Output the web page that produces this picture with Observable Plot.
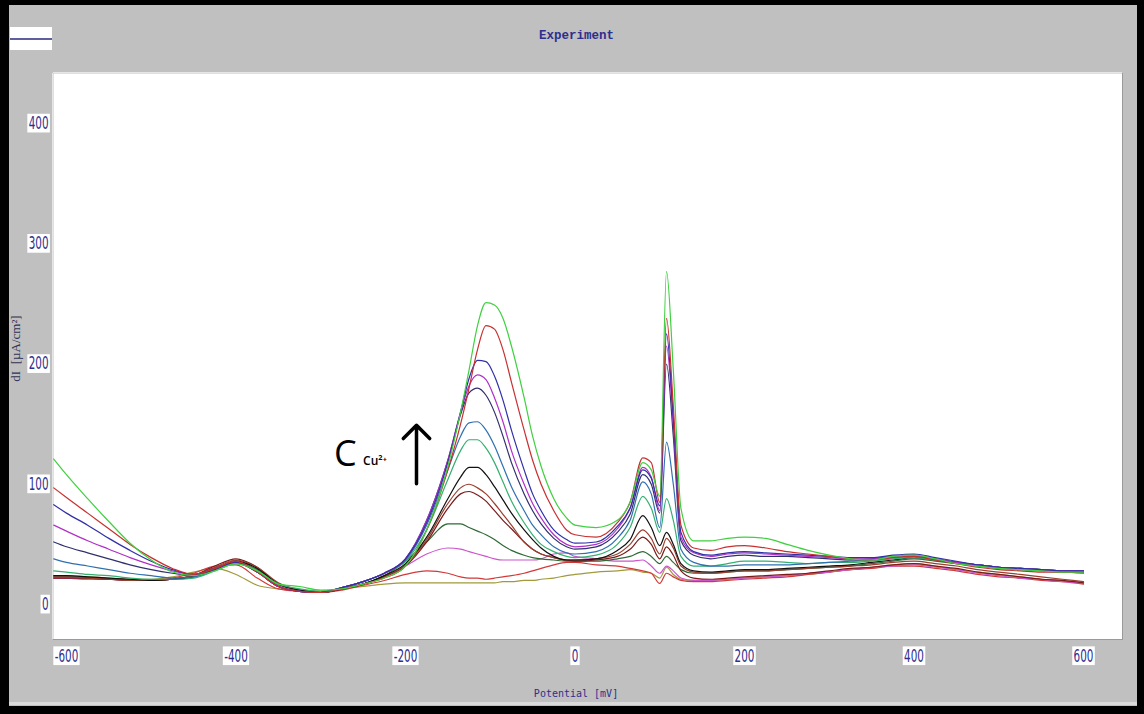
<!DOCTYPE html>
<html><head><meta charset="utf-8">
<script src="https://cdn.jsdelivr.net/npm/d3@7"></script>
<script src="https://cdn.jsdelivr.net/npm/@observablehq/plot@0.6"></script>
<style>
html,body{margin:0;padding:0;background:#fff;}
#wrap{position:relative;width:1144px;height:714px;overflow:hidden;}
</style></head><body><div id="wrap"></div>
<script>
// Potential axis sample points (mV)
const potential = [-615,-600,-575,-550,-525,-500,-475,-450,-425,-400,
 -375,-350,-325,-300,-275,-250,-225,-200,-175,-150,
 -135,-125,-115,-105,-95,-85,-75,-60,-50,-40,
 -25,-10,0,25,50,65,80,90,100,108,
 116,125,140,160,180,200,225,250,275,300,
 325,350,375,400,425,450,475,500,525,550,
 575,600];

// dI values (µA/cm²), one array per curve
const green = [121,108,88,69,51,37,27,24,28,34,
 28,17,15,12,13,17,22,32,62,115,
 160,195,232,251,249,238,215,172,140,115,
 88,72,66,64,70,85,118,112,90,277,
 195,80,53,53,55,56,55,50,45,41,
 38,37,40,41,38,34,32,30,29,28,
 27,27];
const red = [97,89,76,63,50,39,30,25,30,36,
 27,15,11,10,13,17,22,32,62,112,
 150,180,212,232,229,212,185,145,120,100,
 78,62,58,56,68,85,122,118,85,238,
 165,66,47,45,48,49,47,44,42,40,
 38,37,39,40,37,34,31,29,28,27,
 27,26];
const darkBlue = [83,76,66,55,45,36,29,25,30,35,
 27,15,11,10,14,19,26,38,68,118,
 160,188,203,202,190,170,145,112,92,78,
 62,54,51,52,65,80,112,105,82,225,
 155,60,44,41,43,44,43,42,41,40,
 39,39,41,42,39,36,33,31,30,29,
 28,28];
const violet = [66,61,53,46,39,33,28,25,30,35,
 27,15,11,10,14,19,26,38,70,120,
 160,182,191,187,172,152,128,100,84,72,
 58,50,48,50,63,80,114,106,78,215,
 150,56,43,40,42,43,42,41,40,39,
 38,38,40,41,38,35,33,31,30,29,
 28,28];
const navy = [52,48,43,38,33,29,26,24,29,35,
 27,15,11,10,14,19,26,38,70,120,
 158,176,180,174,160,140,118,92,78,67,
 55,48,46,48,60,75,108,100,76,200,
 140,53,41,38,40,41,40,40,39,38,
 37,38,40,41,38,35,33,31,30,29,
 28,27];
const steel = [38,35,32,29,26,24,22,23,29,35,
 27,15,11,10,14,19,26,37,66,112,
 140,151,152,145,132,115,98,78,66,58,
 48,43,42,44,55,70,102,92,64,135,
 100,46,35,32,32,33,33,33,34,35,
 36,37,39,40,38,35,33,31,30,29,
 28,28];
const green2 = [28,27,25,24,22,21,21,22,28,34,
 28,17,13,11,14,19,26,36,62,104,
 128,137,137,130,118,102,86,68,58,50,
 44,40,39,41,50,64,90,80,60,88,
 70,40,32,32,34,36,36,35,34,35,
 35,36,38,39,37,35,33,31,30,29,
 28,28];
const black = [24,24,23,22,21,20,21,23,29,36,
 30,17,12,10,13,17,24,34,56,88,
 106,114,114,108,98,87,76,62,54,47,
 40,37,37,38,45,54,74,64,49,60,
 50,34,28,27,28,29,29,30,31,32,
 33,35,37,39,37,35,33,31,30,29,
 28,28];
const brown = [23,23,22,21,20,20,21,24,31,37,
 31,18,12,10,13,17,23,33,54,84,
 97,100,97,92,84,75,66,52,46,42,
 39,37,37,38,42,50,62,55,42,55,
 47,32,27,26,27,28,28,29,30,31,
 32,33,35,36,34,32,29,27,25,23,
 21,19];
const maroon = [22,22,22,21,20,20,21,24,32,38,
 31,17,12,10,13,17,23,32,52,80,
 92,94,91,86,78,70,63,52,46,42,
 39,37,36,37,40,46,56,50,38,48,
 41,28,22,21,22,23,24,25,26,28,
 30,31,33,34,32,30,27,25,23,21,
 20,18];
const darkGreen = [23,23,22,21,21,20,21,24,30,36,
 29,17,12,10,13,17,24,36,52,67,
 67,64,61,58,54,49,45,41,39,38,
 37,36,36,36,38,40,44,40,34,40,
 35,29,26,26,27,28,28,29,30,31,
 32,34,36,38,36,34,32,30,29,28,
 27,27];
const magenta = [22,22,21,21,20,20,21,24,30,35,
 27,16,11,10,13,17,23,32,42,47,
 46,44,42,40,38,37,37,37,37,38,
 42,43,40,38,36,36,37,32,26,32,
 28,22,20,20,21,22,23,24,26,27,
 29,31,32,33,31,29,26,24,22,21,
 19,18];
const red2 = [22,22,21,21,20,20,22,26,32,33,
 22,13,11,10,12,16,20,25,28,26,
 23,22,22,21,22,23,24,26,28,30,
 33,35,35,33,32,30,28,26,17.5,26,
 23,20,19,19,20,21,22,23,25,27,
 29,30,32,32,30,28,25,23,22,20,
 19,17];
const olive = [24,24,23,22,21,21,23,27,30,25,
 16,13,12,11,13,15,17,18,18,18,
 18,18,18,18,18,19,19,20,20,21,
 22,24,25,27,28,29,27,26,22,31,
 25,21,20,20,21,22,23,24,25,27,
 29,31,33,34,32,29,27,25,23,21,
 20,18];

const seriesNames = ["olive","red2","magenta","darkGreen","maroon","brown","black","green2","steel","navy","violet","darkBlue","red","green"];
const seriesValues = [olive,red2,magenta,darkGreen,maroon,brown,black,green2,steel,navy,violet,darkBlue,red,green];
const seriesColors = ["#a09a3a","#d23a3a","#cc55cc","#2f6a35","#7a1a1a","#9a4030","#111111","#33b070","#3070b0","#30306e","#b030c8","#3030a8","#c83030","#40d040"];

const xTicks = [-600,-400,-200,0,200,400,600];
const yTicks = [0,100,200,300,400];

const titleText = ["Experiment"];
const xLabel = ["Potential [mV]"];
const yLabel = ["dI  [µA/cm²]"];
const arrowData = [{x: -187, y1: 100.5, y2: 149}];
const bigC = [{x: -271, y: 124.5, t: "C"}];
const cuLabel = [{x: -250, y: 119, t: "Cu²⁺"}];

const rows = [];
seriesNames.forEach((n, k) => seriesValues[k].forEach((v, i) => rows.push({name: n, potential: potential[i], value: v})));

const navyText = "#2e2e8e";
const narrow = "'Liberation Sans Narrow','DejaVu Sans Condensed','Arial Narrow',sans-serif";

const chart = Plot.plot({
  width: 1144, height: 714,
  marginLeft: 53, marginRight: 22, marginTop: 73, marginBottom: 75,
  style: {background: "#c0c0c0", color: navyText, fontFamily: narrow, overflow: "visible"},
  x: {domain: [-615.3, 646], label: null},
  y: {domain: [-29.1, 441.6], label: null},
  color: {domain: seriesNames, range: seriesColors},
  marks: [
    Plot.frame({fill: "white", stroke: null}),
    Plot.axisX(xTicks, {anchor: "bottom", tickSize: 0, tickPadding: 10, tickFormat: d => String(d), fontSize: 17, fontFamily: narrow, fill: navyText, label: null}),
    Plot.axisY(yTicks, {anchor: "left", tickSize: 0, tickPadding: 5, tickFormat: d => String(d), fontSize: 17, fontFamily: narrow, fill: navyText, label: null}),
    Plot.line(rows, {x: "potential", y: "value", z: "name", stroke: "name", strokeWidth: 1.2, curve: "monotone-x"}),
    Plot.arrow(arrowData, {x1: "x", x2: "x", y1: "y1", y2: "y2", stroke: "black", strokeWidth: 3.5, headAngle: 90, headLength: 8}),
    Plot.text(bigC, {x: "x", y: "y", text: "t", fontSize: 36, fontFamily: "'Open Sans',sans-serif", fill: "black", textAnchor: "middle"}),
    Plot.text(cuLabel, {x: "x", y: "y", text: "t", fontSize: 12, fontWeight: 600, fontFamily: "'Open Sans',sans-serif", fill: "black", textAnchor: "start"}),
    Plot.text(titleText, {text: d => d, frameAnchor: "top", lineAnchor: "middle", dx: -11.5, dy: -39, fontSize: 12.5, fontWeight: "bold", fontFamily: "'Liberation Mono','DejaVu Sans Mono',monospace", fill: navyText, ariaLabel: "boxed"}),
    Plot.text(xLabel, {text: d => d, frameAnchor: "bottom", lineAnchor: "middle", dx: -12, dy: 54, fontSize: 10, fontFamily: "'DejaVu Sans Mono','Liberation Mono',monospace", fill: navyText, ariaLabel: "boxed"}),
    Plot.text(yLabel, {text: d => d, frameAnchor: "left", textAnchor: "middle", lineAnchor: "middle", dx: -38, dy: -8, rotate: -90, fontSize: 13, fontFamily: "'Liberation Serif','DejaVu Serif',serif", fill: "#333355", ariaLabel: "ylabel"})
  ]
});
document.getElementById("wrap").appendChild(chart);

// decorations: narrow tick digits with white boxes behind labels, window border, legend swatch
const ns = "http://www.w3.org/2000/svg";
const svg = chart.tagName.toLowerCase() === "svg" ? chart : chart.querySelector("svg");
svg.querySelectorAll('g[aria-label="ylabel"] text').forEach(t => {
  t.setAttribute("textLength", "104");
  t.setAttribute("lengthAdjust", "spacing");
});
svg.querySelectorAll('g[aria-label="x-axis tick label"] text, g[aria-label="y-axis tick label"] text').forEach(t => {
  const tr = t.getAttribute("transform") || "";
  t.setAttribute("transform", tr + " scale(0.68,1)");
});
svg.querySelectorAll('g[aria-label="x-axis tick label"] text, g[aria-label="y-axis tick label"] text, g[aria-label="boxed"] text').forEach(t => {
  const b = t.getBBox();
  const r = document.createElementNS(ns, "rect");
  r.setAttribute("x", b.x - 2); r.setAttribute("y", b.y);
  r.setAttribute("width", b.width + 4); r.setAttribute("height", b.height);
  r.setAttribute("fill", "white"); r.setAttribute("stroke", "none");
  const tr = t.getAttribute("transform"); if (tr) r.setAttribute("transform", tr);
  t.parentNode.insertBefore(r, t);
});
const deco = d3.select(svg).append("g").attr("aria-label", "window");
// plot-area bevel
deco.append("line").attr("x1", 53).attr("x2", 1122).attr("y1", 72.5).attr("y2", 72.5).attr("stroke", "#e6e6e6");
deco.append("line").attr("x1", 52.5).attr("x2", 52.5).attr("y1", 73).attr("y2", 639).attr("stroke", "#e6e6e6");
deco.append("line").attr("x1", 53).attr("x2", 1123).attr("y1", 639.5).attr("y2", 639.5).attr("stroke", "#9a9a9a");
deco.append("line").attr("x1", 1122.5).attr("x2", 1122.5).attr("y1", 73).attr("y2", 640).attr("stroke", "#9a9a9a");
// legend swatch
deco.append("rect").attr("x", 10).attr("y", 27).attr("width", 42).attr("height", 23).attr("fill", "white");
deco.append("line").attr("x1", 10).attr("x2", 52).attr("y1", 39).attr("y2", 39).attr("stroke", "#2a2a80").attr("stroke-width", 1.5);
// bottom light strip
deco.append("rect").attr("x", 9).attr("y", 702).attr("width", 1128).attr("height", 3).attr("fill", "#dadada");
// black window border
deco.append("rect").attr("x", 0).attr("y", 0).attr("width", 9).attr("height", 714).attr("fill", "black");
deco.append("rect").attr("x", 0).attr("y", 0).attr("width", 1144).attr("height", 5).attr("fill", "black");
deco.append("rect").attr("x", 1137).attr("y", 0).attr("width", 7).attr("height", 714).attr("fill", "black");
deco.append("rect").attr("x", 0).attr("y", 706).attr("width", 1144).attr("height", 8).attr("fill", "black");
</script></body></html>
